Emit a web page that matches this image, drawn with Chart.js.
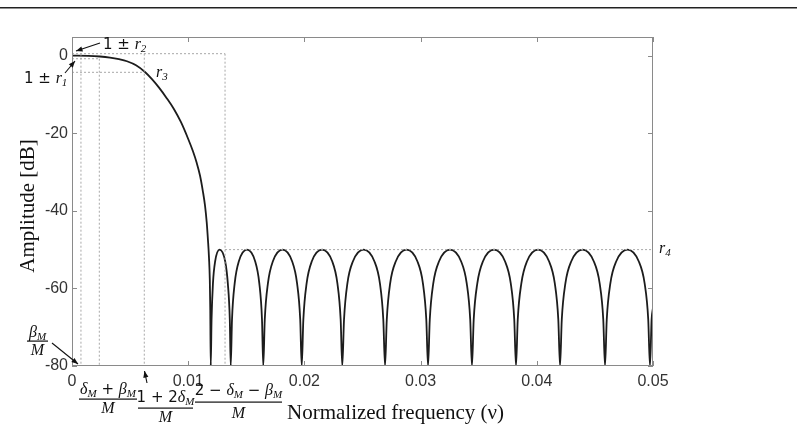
<!DOCTYPE html>
<html><head><meta charset="utf-8">
<script src="https://cdn.jsdelivr.net/npm/chart.js@4/dist/chart.umd.min.js"></script>
<style>html,body{margin:0;padding:0;background:#fff;overflow:hidden}canvas{display:block}</style>
</head><body>
<canvas id="c" width="797" height="428"></canvas>
<script>
// ---- data ----
const freq = [
  0, 0.00138, 0.00241, 0.00327, 0.00404, 0.00473, 0.00551, 0.00628, 0.00688, 0.00749, 0.00815, 0.00878,
  0.00938, 0.01001, 0.01041, 0.01073, 0.01102, 0.01127, 0.01145, 0.01159, 0.01170, 0.01179, 0.01186, 0.01190, 0.01194,
  0.01201, 0.01213, 0.01232, 0.01270, 0.01318, 0.01341, 0.01358, 0.01366,
  0.01377, 0.01400, 0.01436, 0.01506, 0.01576, 0.01612, 0.01635, 0.01646,
  0.01659, 0.01686, 0.01729, 0.01812, 0.01894, 0.01937, 0.01964, 0.01977,
  0.01991, 0.02019, 0.02064, 0.02152, 0.02239, 0.02284, 0.02312, 0.02326,
  0.02341, 0.02370, 0.02418, 0.02510, 0.02602, 0.02650, 0.02679, 0.02694,
  0.02709, 0.02738, 0.02787, 0.02879, 0.02972, 0.03020, 0.03049, 0.03064,
  0.03079, 0.03109, 0.03159, 0.03253, 0.03348, 0.03397, 0.03427, 0.03442,
  0.03457, 0.03488, 0.03537, 0.03632, 0.03726, 0.03776, 0.03806, 0.03821,
  0.03836, 0.03867, 0.03916, 0.04011, 0.04105, 0.04155, 0.04185, 0.04200,
  0.04215, 0.04246, 0.04297, 0.04394, 0.04490, 0.04541, 0.04572, 0.04587,
  0.04602, 0.04633, 0.04684, 0.04781, 0.04877, 0.04928, 0.04959, 0.04974,
  0.04988, 0.05
];
const ampDb = [
  0, -0.05, -0.23, -0.52, -0.93, -1.45, -2.48, -4.21, -6.06, -8.26, -10.97, -13.81,
  -17.16, -21.55, -24.65, -27.61, -30.97, -35.1, -38.71, -42.84, -47.48, -52.13, -57.81, -65.55, -80,
  -68, -58.7, -53, -50, -53, -58.7, -68, -80,
  -68, -58.7, -53, -50, -53, -58.7, -68, -80,
  -68, -58.7, -53, -50, -53, -58.7, -68, -80,
  -68, -58.7, -53, -50, -53, -58.7, -68, -80,
  -68, -58.7, -53, -50, -53, -58.7, -68, -80,
  -68, -58.7, -53, -50, -53, -58.7, -68, -80,
  -68, -58.7, -53, -50, -53, -58.7, -68, -80,
  -68, -58.7, -53, -50, -53, -58.7, -68, -80,
  -68, -58.7, -53, -50, -53, -58.7, -68, -80,
  -68, -58.7, -53, -50, -53, -58.7, -68, -80,
  -68, -58.7, -53, -50, -53, -58.7, -68, -80,
  -68, -65
];
const xTicks = [0, 0.01, 0.02, 0.03, 0.04, 0.05];
const xTickLabels = ['0', '0.01', '0.02', '0.03', '0.04', '0.05'];
const yTicks = [-80, -60, -40, -20, 0];
const yTickLabels = ['-80', '-60', '-40', '-20', '0'];
// dotted guide lines
const edgeFreqs = [0.00077, 0.00235, 0.00622, 0.01317];
const edgeTopDb = [0.5, -0.8, 0.5, 0.5];
const levelDb = [0.5, -0.8, -4.3];
const levelEndFreqs = [0.01317, 0.00235, 0.00622];
const stopLevelDb = -50;
const stopStartFreq = 0.01317;

const Y_MIN = -80, Y_MAX = 4.8;

const guideStyle = {borderColor:'#a8a8a8', borderWidth:1, borderDash:[2,2], pointRadius:0, tension:0, fill:false};
const datasets = [];
edgeFreqs.forEach((f,i)=>datasets.push(Object.assign({data:[{x:f,y:edgeTopDb[i]},{x:f,y:Y_MIN}]}, guideStyle)));
levelDb.forEach((l,i)=>datasets.push(Object.assign({data:[{x:0,y:l},{x:levelEndFreqs[i],y:l}]}, guideStyle)));
datasets.push(Object.assign({data:[{x:stopStartFreq,y:stopLevelDb},{x:0.05,y:stopLevelDb}]}, guideStyle));
datasets.push({
  data: freq.map((f,i)=>({x:f, y:ampDb[i]})),
  borderColor:'#1c1c1c', borderWidth:1.8, pointRadius:0, fill:false,
  cubicInterpolationMode:'monotone'
});

const IT = 'italic 16px "Liberation Serif"';
const SUB = 'italic 11px "Liberation Serif"';
const RM = '15px "DejaVu Sans"';

function seqWidth(ctx, parts){ let w=0; parts.forEach(p=>{ctx.font=p.f; w+=ctx.measureText(p.t).width;}); return w; }
function drawSeq(ctx, x, y, parts){ parts.forEach(p=>{ ctx.font=p.f; ctx.fillText(p.t, x, y+(p.dy||0)); x += ctx.measureText(p.t).width; }); }
function drawFrac(ctx, cx, numBase, barY, denBase, num, den, barL, barR){
  const wn = seqWidth(ctx, num);
  drawSeq(ctx, cx - wn/2, numBase, num);
  const wd = seqWidth(ctx, den);
  drawSeq(ctx, cx - wd/2, denBase, den);
  ctx.fillRect(barL, barY, barR-barL, 1.2);
}
function arrow(ctx, x1,y1,x2,y2){
  ctx.beginPath(); ctx.moveTo(x1,y1); ctx.lineTo(x2,y2); ctx.stroke();
  const a = Math.atan2(y2-y1,x2-x1), s=7;
  ctx.beginPath(); ctx.moveTo(x2,y2);
  ctx.lineTo(x2 - s*Math.cos(a-0.38), y2 - s*Math.sin(a-0.38));
  ctx.lineTo(x2 - s*Math.cos(a+0.38), y2 - s*Math.sin(a+0.38));
  ctx.closePath(); ctx.fill();
}
const sp = t => ({t, f:RM});
const it = t => ({t, f:IT});
const sb = t => ({t, f:SUB, dy:3});

const overlay = {
  id:'overlay',
  afterDatasetsDraw(chart){
    const {ctx, chartArea:a, scales:{x,y}} = chart;
    ctx.save();
    ctx.strokeStyle = '#8a8a8a'; ctx.lineWidth = 1;
    ctx.strokeRect(a.left+0.5, a.top+0.5, a.right-a.left-1, a.bottom-a.top-1);
    ctx.beginPath();
    xTicks.forEach(v=>{ const px=Math.round(x.getPixelForValue(v))+0.5;
      ctx.moveTo(px,a.bottom); ctx.lineTo(px,a.bottom-5); ctx.moveTo(px,a.top); ctx.lineTo(px,a.top+5); });
    yTicks.forEach(v=>{ const py=Math.round(y.getPixelForValue(v))+0.5;
      ctx.moveTo(a.left,py); ctx.lineTo(a.left+5,py); ctx.moveTo(a.right,py); ctx.lineTo(a.right-5,py); });
    ctx.stroke();
    ctx.restore();
  },
  afterDraw(chart){
    const ctx = chart.ctx;
    ctx.save();
    // header rule
    ctx.fillStyle = '#222'; ctx.fillRect(0, 7, 797, 1.5);
    ctx.fillStyle = '#111'; ctx.strokeStyle = '#111'; ctx.lineWidth = 1.1;
    ctx.textBaseline = 'alphabetic'; ctx.textAlign = 'left';
    // axis titles
    ctx.font = '21px "Liberation Serif"';
    ctx.fillText('Normalized frequency (ν)', 287, 419);
    ctx.save(); ctx.translate(34, 206); ctx.rotate(-Math.PI/2); ctx.textAlign='center';
    ctx.fillText('Amplitude [dB]', 0, 0); ctx.restore();
    // annotations
    drawSeq(ctx, 103, 49, [sp('1 ± '), it('r'), sb('2')]);
    arrow(ctx, 100, 43, 76, 51);
    drawSeq(ctx, 24, 83, [sp('1 ± '), it('r'), sb('1')]);
    arrow(ctx, 65, 73, 75, 61);
    drawSeq(ctx, 156, 77, [it('r'), sb('3')]);
    drawSeq(ctx, 659, 253, [it('r'), sb('4')]);
    drawFrac(ctx, 37.5, 337, 340.5, 355, [it('β'), sb('M')], [it('M')], 27, 48);
    arrow(ctx, 52, 343, 78, 364);
    drawFrac(ctx, 108, 394, 398.5, 413, [it('δ'), sb('M'), sp(' + '), it('β'), sb('M')], [it('M')], 79, 137);
    drawFrac(ctx, 165.5, 402, 407.5, 422, [sp('1 + 2'), it('δ'), sb('M')], [it('M')], 138, 193);
    drawFrac(ctx, 238.5, 395, 401.5, 418, [sp('2 − '), it('δ'), sb('M'), sp(' − '), it('β'), sb('M')], [it('M')], 195, 282);
    arrow(ctx, 147, 383, 144.5, 371);
    ctx.restore();
  }
};

new Chart(document.getElementById('c'), {
  type:'line',
  data:{datasets},
  options:{
    responsive:false, animation:false, devicePixelRatio:1,
    layout:{padding:{left:12, right:144, top:37, bottom:32}},
    plugins:{legend:{display:false}, tooltip:{enabled:false}},
    scales:{
      x:{type:'linear', min:0, max:0.05,
        grid:{display:false, drawTicks:false}, border:{display:false},
        afterFit:s=>{s.height=30;},
        afterBuildTicks:s=>{s.ticks=xTicks.map(v=>({value:v}));},
        ticks:{padding:6, color:'#333', autoSkip:false, maxRotation:0,
          font:{family:'"Liberation Sans", Arial', size:16},
          callback:v=>xTickLabels[xTicks.indexOf(v)]}},
      y:{type:'linear', min:Y_MIN, max:Y_MAX,
        grid:{display:false, drawTicks:false}, border:{display:false},
        afterFit:s=>{s.width=60;},
        afterBuildTicks:s=>{s.ticks=yTicks.map(v=>({value:v}));},
        ticks:{padding:4, color:'#333',
          font:{family:'"Liberation Sans", Arial', size:16},
          callback:v=>yTickLabels[yTicks.indexOf(v)]}}
    }
  },
  plugins:[overlay]
});
</script>
</body></html>
